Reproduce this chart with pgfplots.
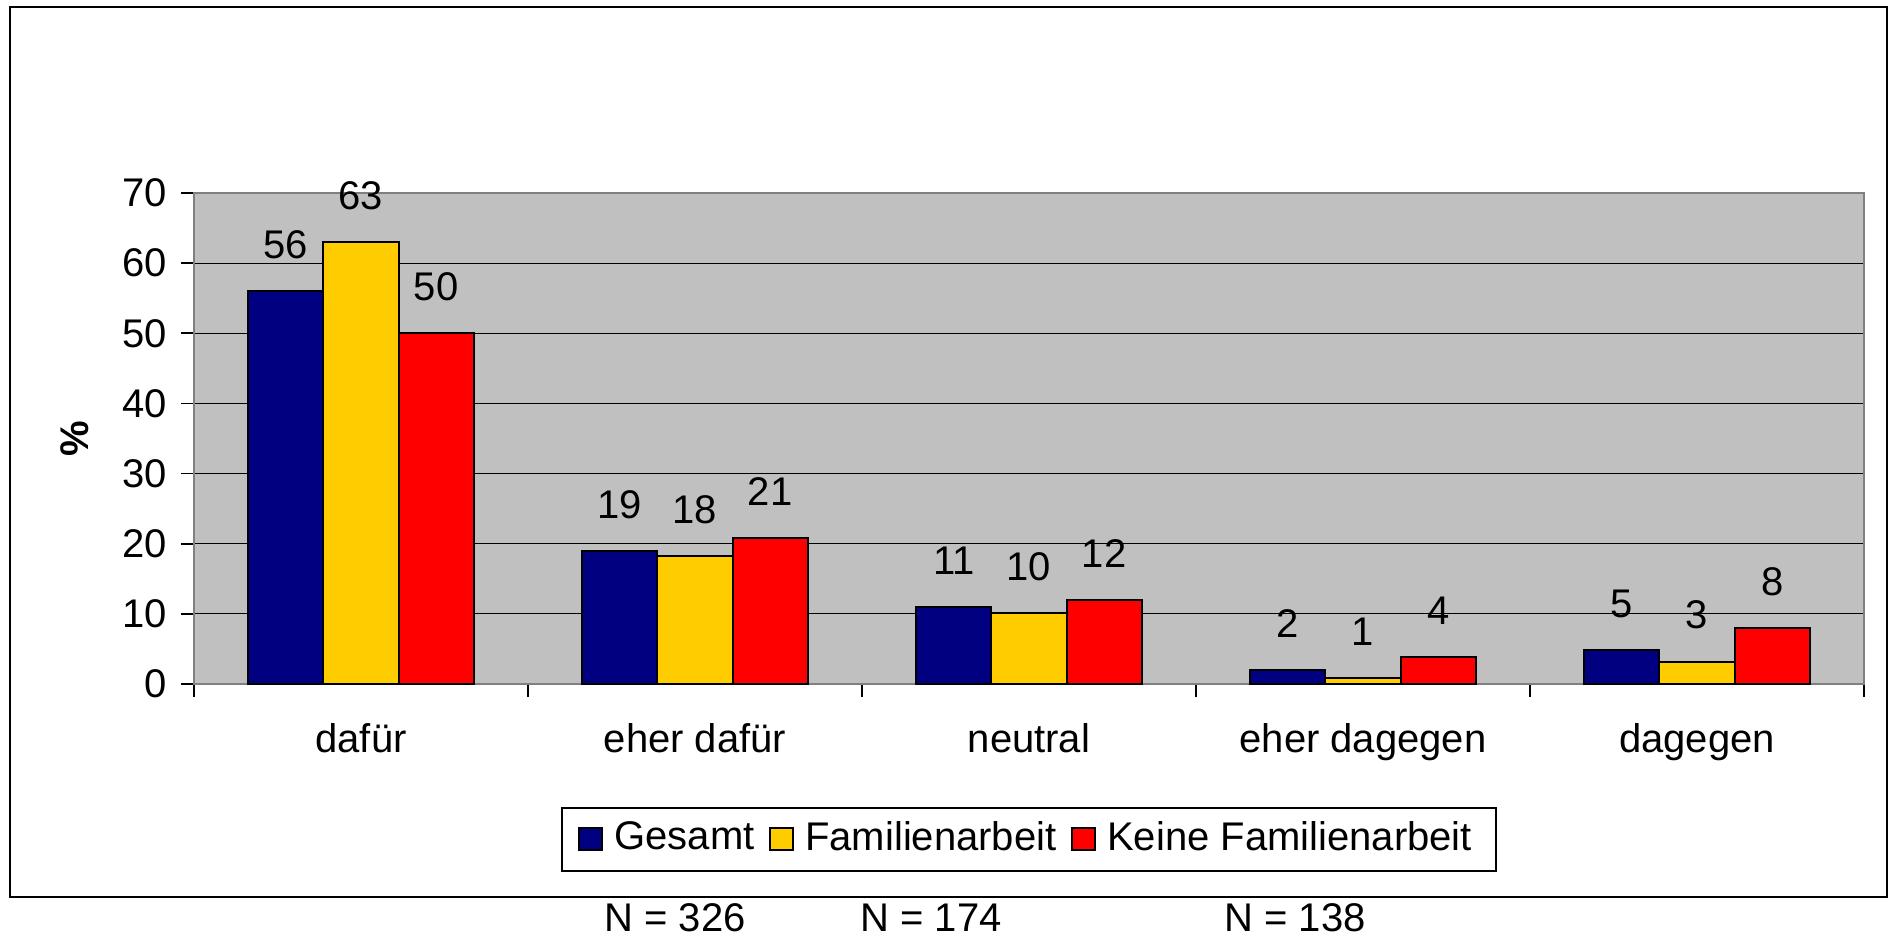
\documentclass[border=0pt]{standalone}
\usepackage{fontspec}
\setmainfont{Liberation Sans}
\usepackage{pgfplots}
\pgfplotsset{compat=1.18}
\definecolor{cblue}{HTML}{000080}
\definecolor{cyellow}{HTML}{FFCC00}
\definecolor{cred}{HTML}{FF0000}
\definecolor{plotbg}{HTML}{C0C0C0}
\definecolor{plotborder}{HTML}{808080}
\begin{document}
\begin{tikzpicture}
\useasboundingbox (-48.5pt,-62.75pt) rectangle (423.75pt,171pt);
\draw[line width=0.5pt] (-46pt,-53.25pt) rectangle (423.25pt,169.25pt);
\begin{axis}[
  at={(0,0)}, anchor=south west,
  scale only axis, width=417.5pt, height=122.75pt,
  ybar=0pt, bar width=0.225,
  xmin=-0.5, xmax=4.5, ymin=0, ymax=70,
  ytick={0,10,...,70},
  xtick={0,1,2,3,4},
  xticklabels={dafür, eher dafür, neutral, eher dagegen, dagegen},
  minor xtick={-0.5,0.5,1.5,2.5,3.5,4.5},
  tick pos=left,
  tick align=outside, major tick length=3.3pt, minor tick length=3.3pt,
  major x tick style={draw=none},
  tick style={black, line width=0.4pt},
  xticklabel style={yshift=-3pt},
  ymajorgrids, major grid style={black, line width=0.3pt},
  axis background/.style={fill=plotbg},
  axis line style={plotborder, line width=0.6pt},
  /pgf/number format/assume math mode=true,
  ylabel={\textbf{\%}},
  ylabel style={at={(axis description cs:-0.0714,0.5)}, anchor=center},
  nodes near coords={\pgfmathprintnumber[fixed,precision=0]{\pgfplotspointmeta}},
  every node near coord/.append style={text=black, yshift=4.5pt},
  legend style={at={(axis description cs:0.5,-0.3157)}, anchor=center,
    legend columns=-1, draw=black, fill=white, line width=0.5pt,
    inner xsep=4.1pt, inner ysep=1.5pt,
    /tikz/every odd column/.append style={column sep=0.9pt},
    /tikz/every even column/.append style={column sep=1.6pt}},
  legend image code/.code={\draw[#1, line width=0.5pt] (0pt,-2.85pt) rectangle (5.7pt,2.85pt);},
]
\addplot[fill=cblue, draw=black, line width=0.5pt] coordinates {(0,56) (1,19) (2,11) (3,2) (4,4.8)};
\addplot[fill=cyellow, draw=black, line width=0.5pt] coordinates {(0,63) (1,18.2) (2,10.1) (3,0.9) (4,3.2)};
\addplot[fill=cred, draw=black, line width=0.5pt] coordinates {(0,50) (1,20.8) (2,12) (3,3.9) (4,8)};
\legend{Gesamt, Familienarbeit, Keine Familienarbeit}
\end{axis}
\node at (120.25pt,-58.5pt) {N = 326};
\node at (184.25pt,-58.5pt) {N = 174};
\node at (275.25pt,-58.5pt) {N = 138};
\end{tikzpicture}
\end{document}
